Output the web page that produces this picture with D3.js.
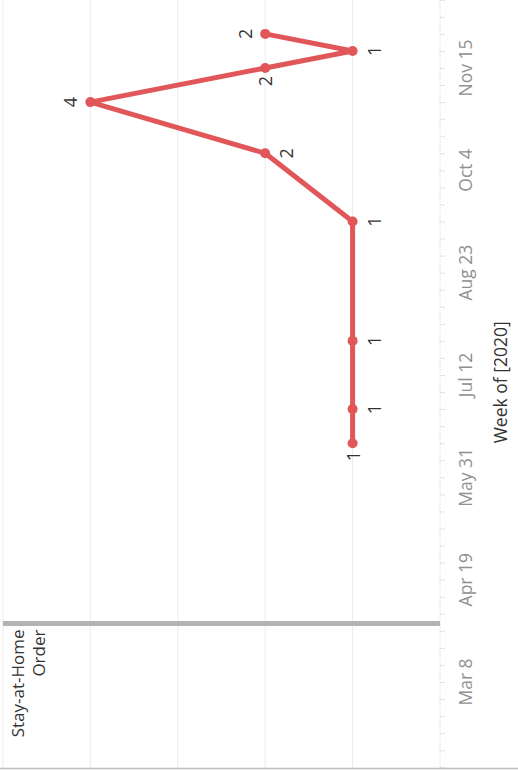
<!DOCTYPE html>
<html>
<head>
<meta charset="utf-8">
<script src="https://cdn.jsdelivr.net/npm/d3@7"></script>
<style>
  html, body { margin: 0; padding: 0; background: #fff; }
  svg { display: block; font-family: "Open Sans", "DejaVu Sans", sans-serif; }
</style>
</head>
<body>
<svg id="chart" width="518" height="773"></svg>
<script>
// ---- data ----
const weeks  = ["2020-06-14","2020-06-28","2020-07-26","2020-09-13","2020-10-11","2020-11-01","2020-11-15","2020-11-22","2020-11-29"];
const counts = [1, 1, 1, 1, 2, 4, 2, 1, 2];
// label placement (direction relative to the point, in the drawn picture)
const labelSide = ["down","right","right","right","right","left","down","right","left"];
const tickLabels = ["Mar 8","Apr 19","May 31","Jul 12","Aug 23","Oct 4","Nov 15"];
const tickDates  = ["2020-03-08","2020-04-19","2020-05-31","2020-07-12","2020-08-23","2020-10-04","2020-11-15"];
const valueGrid = [1, 2, 3, 4, 5];
const refLineDate = "2020-04-01";
const refLineLabel = ["Stay-at-Home", "Order"];
const axisTitle = "Week of [2020]";

const parse = d3.timeParse("%Y-%m-%d");
const svg = d3.select("#chart");

// dates run bottom -> top, values run right -> left (chart rotated)
const y = d3.scaleTime()
  .domain([parse("2020-03-08"), parse("2020-11-15")])
  .range([682, 68]);
const x = d3.scaleLinear().domain([0, 5]).range([440, 3]);

const color = "#e15759";

// grid lines (value)
svg.append("g").selectAll("line").data(valueGrid).join("line")
  .attr("x1", d => x(d)).attr("x2", d => x(d))
  .attr("y1", 0).attr("y2", 768)
  .attr("stroke", "#ececec").attr("stroke-width", 1);

// date axis
const weekly = d3.timeWeek.range(parse("2020-01-26"), parse("2020-12-20"));
const axis = d3.axisRight(y).tickValues(weekly).tickSize(5).tickFormat("");
const ag = svg.append("g").attr("transform", "translate(440,0)").call(axis);
ag.select(".domain").remove();
ag.selectAll(".tick line").attr("stroke", "#e2e2e2");
svg.append("line").attr("x1", 440).attr("x2", 440).attr("y1", 0).attr("y2", 768)
  .attr("stroke", "#e4e4e4").attr("stroke-width", 1).attr("stroke-dasharray", "2,1");

// tick labels
svg.append("g").selectAll("text").data(tickDates).join("text")
  .attr("transform", d => `translate(472,${y(parse(d))}) rotate(-90)`)
  .attr("text-anchor", "middle")
  .attr("font-size", 17.5)
  .attr("fill", "#909090")
  .text((d, i) => tickLabels[i]);

// axis title
svg.append("text")
  .attr("transform", `translate(507,${y(parse("2020-07-09"))}) rotate(-90)`)
  .attr("text-anchor", "middle")
  .attr("font-size", 17.5)
  .attr("font-weight", 500)
  .attr("fill", "#333")
  .text(axisTitle);

// bottom border
svg.append("line").attr("x1", 0).attr("x2", 518).attr("y1", 768.5).attr("y2", 768.5)
  .attr("stroke", "#bdbdbd").attr("stroke-width", 1.5);

// reference line
const ry = y(parse(refLineDate));
svg.append("line").attr("x1", 3).attr("x2", 440).attr("y1", ry).attr("y2", ry)
  .attr("stroke", "#b3b3b3").attr("stroke-width", 5);
svg.append("g").selectAll("text").data(refLineLabel).join("text")
  .attr("transform", (d, i) => `translate(${24 + i * 21},${ry + 6}) rotate(-90)`)
  .attr("text-anchor", "end")
  .attr("font-size", 17)
  .attr("fill", "#333")
  .text(d => d);

// line
const pts = weeks.map((w, i) => ({ date: parse(w), v: counts[i], side: labelSide[i] }));
svg.append("path").datum(pts)
  .attr("fill", "none").attr("stroke", color).attr("stroke-width", 5)
  .attr("stroke-linejoin", "round").attr("stroke-linecap", "round")
  .attr("d", d3.line().x(d => x(d.v)).y(d => y(d.date)));

svg.append("g").selectAll("circle").data(pts).join("circle")
  .attr("cx", d => x(d.v)).attr("cy", d => y(d.date)).attr("r", 5)
  .attr("fill", color);

// data labels
const off = { right: [21, 0], left: [-20, 0], down: [0, 13], up: [0, -13] };
svg.append("g").selectAll("text").data(pts).join("text")
  .attr("transform", d => `translate(${x(d.v) + off[d.side][0]},${y(d.date) + off[d.side][1]}) rotate(-90)`)
  .attr("text-anchor", "middle")
  .attr("dominant-baseline", "central")
  .attr("font-size", 18)
  .attr("fill", "#333")
  .text(d => d.v);
</script>
</body>
</html>
